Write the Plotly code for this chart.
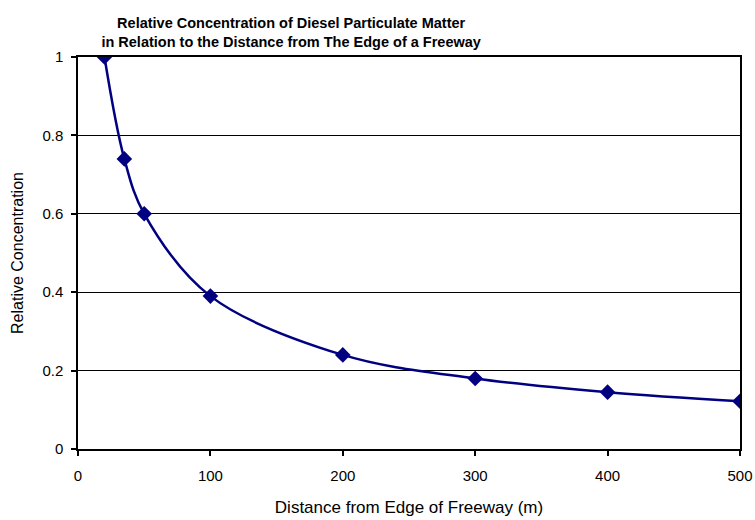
import plotly.graph_objects as go

distance = [20, 35, 50, 100, 200, 300, 400, 500]
concentration = [1.0, 0.74, 0.60, 0.39, 0.24, 0.18, 0.145, 0.122]

x_ticks = [0, 100, 200, 300, 400, 500]
y_ticks = [0, 0.2, 0.4, 0.6, 0.8, 1]
y_tick_labels = ["0", "0.2", "0.4", "0.6", "0.8", "1"]

navy = "#000080"
FONT = "Arial, Liberation Sans, sans-serif"

fig = go.Figure()
fig.add_trace(go.Scatter(
    x=distance, y=concentration,
    mode="lines+markers",
    line=dict(color=navy, width=2.5, shape="spline", smoothing=1.0),
    marker=dict(symbol="diamond", size=12, color=navy),
    showlegend=False,
))

fig.update_layout(
    width=755, height=520,
    paper_bgcolor="white", plot_bgcolor="white",
    margin=dict(l=78, r=15, t=57, b=71),
    font=dict(family=FONT, color="black", size=15),
    title=dict(
        text="<b>Relative Concentration of Diesel Particulate Matter<br>in Relation to the Distance from The Edge of a Freeway</b>",
        x=0.322, xanchor="center", xref="paper",
        y=1 - 28 / 520, yanchor="middle", yref="container",
        font=dict(size=14.5, family=FONT),
    ),
    xaxis=dict(
        range=[0, 500], tickvals=x_ticks,
        showgrid=False, zeroline=False, automargin=False,
        showline=True, linecolor="black", linewidth=1.5, mirror=True,
        ticks="outside", ticklen=5, tickcolor="black", tickwidth=1.5,
        ticklabelstandoff=7,
        tickfont=dict(size=15),
        title=dict(text="Distance from Edge of Freeway (m)", font=dict(size=17), standoff=18),
    ),
    yaxis=dict(
        range=[0, 1], tickvals=y_ticks, ticktext=y_tick_labels,
        showgrid=True, gridcolor="black", gridwidth=1,
        zeroline=False, automargin=False,
        showline=True, linecolor="black", linewidth=1.5, mirror=True,
        ticks="outside", ticklen=5, tickcolor="black", tickwidth=1.5,
        ticklabelstandoff=5,
        tickfont=dict(size=15),
        title=dict(text="Relative Concentration", font=dict(size=16), standoff=15),
    ),
)

# remove the default page margin/scrollbars so the 755x520 figure fills the window
fig.write_html(
    "out.html",
    config={"displayModeBar": False},
    post_script="document.body.style.margin='0';document.body.style.overflow='hidden';",
)
